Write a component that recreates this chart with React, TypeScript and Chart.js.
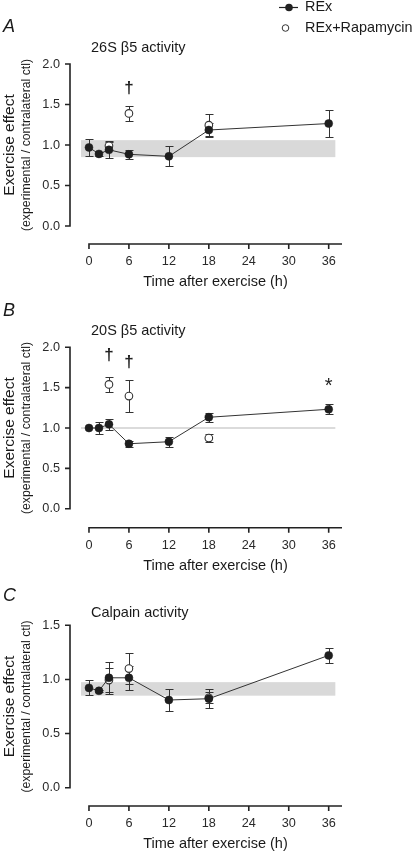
import React, { useEffect, useRef } from "react";
import { Chart, registerables } from "chart.js";

Chart.register(...registerables);

// ---------- data ----------
const TIMES = [0, 1.5, 3, 6, 12, 18, 36];
const X_TICKS = [0, 6, 12, 18, 24, 30, 36];

const A_REX = [0.97, 0.89, 0.94, 0.885, 0.86, 1.185, 1.265];
const A_REX_SEM = [0.1, 0.02, 0.105, 0.055, 0.125, 0.09, 0.17];
const A_RAPA = [null, null, 0.99, 1.39, null, 1.245, null];
const A_RAPA_SEM = [null, null, 0.05, 0.09, null, 0.135, null];
const A_BAND = [0.85, 1.06];
const A_Y_TICKS = [0, 0.5, 1.0, 1.5, 2.0];
const A_MARKS = [{ x: 6, y: 1.7, text: "†" }];

const B_REX = [1.0, 1.0, 1.045, 0.805, 0.83, 1.133, 1.232];
const B_REX_SEM = [0, 0.07, 0.065, 0.04, 0.06, 0.057, 0.062];
const B_RAPA = [null, null, 1.54, 1.395, null, 0.875, null];
const B_RAPA_SEM = [null, null, 0.095, 0.195, null, 0.05, null];
const B_REFLINE = 1.0;
const B_Y_TICKS = [0, 0.5, 1.0, 1.5, 2.0];
const B_MARKS = [
  { x: 3, y: 1.9, text: "†" },
  { x: 6, y: 1.82, text: "†" },
  { x: 36, y: 1.52, text: "*" },
];

const C_REX = [0.922, 0.895, 1.015, 1.015, 0.81, 0.822, 1.222];
const C_REX_SEM = [0.07, 0.01, 0.145, 0.11, 0.103, 0.086, 0.071];
const C_RAPA = [null, null, 0.994, 1.1, null, 0.83, null];
const C_RAPA_SEM = [null, null, 0.11, 0.14, null, 0.05, null];
const C_BAND = [0.85, 0.975];
const C_Y_TICKS = [0, 0.5, 1.0, 1.5];
const C_MARKS: { x: number; y: number; text: string }[] = [];

const LEGEND_LABELS = ["REx", "REx+Rapamycin"];
const TITLES = ["26S β5 activity", "20S β5 activity", "Calpain activity"];
const LETTERS = ["A", "B", "C"];
const X_TITLE = "Time after exercise (h)";
const Y_TITLE_1 = "Exercise effect";
const Y_TITLE_2 = "(experimental / contralateral ctl)";

// ---------- layout ----------
const W = 417;
const AXIS_X = 70; // y-axis line
const X0_PX = 89; // pixel of t = 0
const X_RIGHT = 342; // end of x-axis line
const X_MAX = 38;
const PX_PER_H = 40 / 6;
const X_MIN = -(X0_PX - AXIS_X) / PX_PER_H;
const BAND_X = [-1.2, 37];
const FONT = "'Liberation Sans', Arial, Helvetica, sans-serif";

type Panel = {
  idx: number;
  top: number;
  height: number;
  plotTop: number;
  zeroY: number;
  axisY: number;
  yMax: number;
  yTicks: number[];
  rex: (number | null)[];
  rexSem: (number | null)[];
  rapa: (number | null)[];
  rapaSem: (number | null)[];
  band: number[] | null;
  refLine: number | null;
  marks: { x: number; y: number; text: string }[];
  letterY: number;
  titleY: number;
};

const PANELS: Panel[] = [
  {
    idx: 0, top: 0, height: 290, plotTop: 64, zeroY: 226, axisY: 244, yMax: 2,
    yTicks: A_Y_TICKS, rex: A_REX, rexSem: A_REX_SEM, rapa: A_RAPA, rapaSem: A_RAPA_SEM,
    band: A_BAND, refLine: null, marks: A_MARKS, letterY: 27, titleY: 48,
  },
  {
    idx: 1, top: 290, height: 285, plotTop: 347.3, zeroY: 508.7, axisY: 527.7, yMax: 2,
    yTicks: B_Y_TICKS, rex: B_REX, rexSem: B_REX_SEM, rapa: B_RAPA, rapaSem: B_RAPA_SEM,
    band: null, refLine: B_REFLINE, marks: B_MARKS, letterY: 311, titleY: 330.7,
  },
  {
    idx: 2, top: 575, height: 279, plotTop: 625.3, zeroY: 787.7, axisY: 806, yMax: 1.5,
    yTicks: C_Y_TICKS, rex: C_REX, rexSem: C_REX_SEM, rapa: C_RAPA, rapaSem: C_RAPA_SEM,
    band: C_BAND, refLine: null, marks: C_MARKS, letterY: 596, titleY: 613,
  },
];

function drawErr(ctx: CanvasRenderingContext2D, xs: number[], ys: (number | null)[], sems: (number | null)[], xS: any, yS: any) {
  ctx.save();
  ctx.strokeStyle = "#333";
  ctx.lineWidth = 1;
  ys.forEach((v, i) => {
    const s = sems[i];
    if (v == null || s == null || s <= 0) return;
    const x = Math.round(xS.getPixelForValue(xs[i])) + 0.5;
    const yt = Math.round(yS.getPixelForValue(v + s)) + 0.5;
    const yb = Math.round(yS.getPixelForValue(v - s)) + 0.5;
    ctx.beginPath();
    ctx.moveTo(x, yt);
    ctx.lineTo(x, yb);
    ctx.moveTo(x - 4, yt);
    ctx.lineTo(x + 4, yt);
    ctx.moveTo(x - 4, yb);
    ctx.lineTo(x + 4, yb);
    ctx.stroke();
  });
  ctx.restore();
}

function PanelChart({ p }: { p: Panel }) {
  const ref = useRef<HTMLCanvasElement | null>(null);
  useEffect(() => {
    if (!ref.current) return;
    const pxPerUnit = (p.zeroY - p.plotTop) / p.yMax;
    const yMin = -(p.axisY - p.zeroY) / pxPerUnit;
    const off = p.top;

    const plugin = {
      id: "decor" + p.idx,
      beforeDatasetsDraw(chart: any) {
        const ctx = chart.ctx as CanvasRenderingContext2D;
        const xS = chart.scales.x;
        const yS = chart.scales.y;
        if (p.band) {
          ctx.save();
          ctx.fillStyle = "#d9d9d9";
          const x1 = xS.getPixelForValue(BAND_X[0]);
          const x2 = xS.getPixelForValue(BAND_X[1]);
          const y1 = yS.getPixelForValue(p.band[1]);
          const y2 = yS.getPixelForValue(p.band[0]);
          ctx.fillRect(x1, y1, x2 - x1, y2 - y1);
          ctx.restore();
        }
        if (p.refLine != null) {
          ctx.save();
          ctx.strokeStyle = "#cfcfcf";
          ctx.lineWidth = 1.5;
          const y = yS.getPixelForValue(p.refLine);
          ctx.beginPath();
          ctx.moveTo(xS.getPixelForValue(BAND_X[0]), y);
          ctx.lineTo(xS.getPixelForValue(BAND_X[1]), y);
          ctx.stroke();
          ctx.restore();
        }
        drawErr(ctx, TIMES, p.rapa, p.rapaSem, xS, yS);
        drawErr(ctx, TIMES, p.rex, p.rexSem, xS, yS);
      },
      afterDraw(chart: any) {
        const ctx = chart.ctx as CanvasRenderingContext2D;
        const xS = chart.scales.x;
        const yS = chart.scales.y;
        const ca = chart.chartArea;
        ctx.save();
        // axes
        ctx.strokeStyle = "#222";
        ctx.lineWidth = 1.6;
        const yTopPx = yS.getPixelForValue(p.yMax);
        const y0Px = yS.getPixelForValue(0);
        ctx.beginPath();
        ctx.moveTo(ca.left, yTopPx - 0.8);
        ctx.lineTo(ca.left, y0Px + 0.8);
        p.yTicks.forEach((v) => {
          const y = yS.getPixelForValue(v);
          ctx.moveTo(ca.left, y);
          ctx.lineTo(ca.left - 5, y);
        });
        const xb = ca.bottom;
        ctx.moveTo(xS.getPixelForValue(0) - 0.8, xb);
        ctx.lineTo(xS.getPixelForValue(X_MAX), xb);
        X_TICKS.forEach((v) => {
          const x = xS.getPixelForValue(v);
          ctx.moveTo(x, xb);
          ctx.lineTo(x, xb + 5);
        });
        ctx.stroke();

        // markers (daggers / asterisks)
        ctx.fillStyle = "#222";
        ctx.textAlign = "center";
        ctx.textBaseline = "middle";
        p.marks.forEach((m) => {
          ctx.font = m.text === "*" ? `20px ${FONT}` : `bold 17px ${FONT}`;
          ctx.fillText(m.text, xS.getPixelForValue(m.x), yS.getPixelForValue(m.y));
        });

        // letters and titles
        ctx.fillStyle = "#1a1a1a";
        ctx.textAlign = "left";
        ctx.font = `italic 18px ${FONT}`;
        ctx.fillText(LETTERS[p.idx], 3, p.letterY - off);
        ctx.font = `14.5px ${FONT}`;
        ctx.fillText(TITLES[p.idx], 91, p.titleY - off);
        ctx.textAlign = "center";
        ctx.fillText(X_TITLE, (xS.getPixelForValue(0) + ca.right) / 2, ca.bottom + 38.3);

        // y title
        const cy = (yTopPx + y0Px) / 2;
        ctx.save();
        ctx.translate(9.5, cy);
        ctx.rotate(-Math.PI / 2);
        ctx.font = `15.5px ${FONT}`;
        ctx.fillText(Y_TITLE_1, 0, 0);
        ctx.restore();
        ctx.save();
        ctx.translate(26.5, cy);
        ctx.rotate(-Math.PI / 2);
        ctx.font = `12.3px ${FONT}`;
        ctx.fillText(Y_TITLE_2, 0, 0);
        ctx.restore();

        // legend (panel A only)
        if (p.idx === 0) {
          ctx.strokeStyle = "#222";
          ctx.lineWidth = 1.2;
          ctx.beginPath();
          ctx.moveTo(279, 7.5);
          ctx.lineTo(298, 7.5);
          ctx.stroke();
          ctx.fillStyle = "#222";
          ctx.beginPath();
          ctx.arc(289, 7.5, 3.8, 0, Math.PI * 2);
          ctx.fill();
          ctx.fillStyle = "#fff";
          ctx.strokeStyle = "#333";
          ctx.lineWidth = 1;
          ctx.beginPath();
          ctx.arc(285.5, 28, 3.3, 0, Math.PI * 2);
          ctx.fill();
          ctx.stroke();
          ctx.fillStyle = "#1a1a1a";
          ctx.textAlign = "left";
          ctx.font = `14.4px ${FONT}`;
          ctx.fillText(LEGEND_LABELS[0], 305, 7.5);
          ctx.fillText(LEGEND_LABELS[1], 305, 28);
        }
        ctx.restore();
      },
    };

    const toPts = (arr: (number | null)[]) =>
      TIMES.map((t, i) => ({ x: t, y: arr[i] })).filter((d) => d.y != null);

    const chart = new Chart(ref.current, {
      type: "scatter",
      data: {
        datasets: [
          {
            label: LEGEND_LABELS[0],
            data: toPts(p.rex) as any,
            showLine: true,
            borderColor: "#333",
            borderWidth: 1,
            pointRadius: 4,
            pointBackgroundColor: "#1e1e1e",
            pointBorderColor: "#1e1e1e",
            pointBorderWidth: 0.5,
          },
          {
            label: LEGEND_LABELS[1],
            data: toPts(p.rapa) as any,
            showLine: false,
            pointRadius: 3.8,
            pointBackgroundColor: "#ffffff",
            pointBorderColor: "#333",
            pointBorderWidth: 1.1,
          },
        ],
      },
      options: {
        responsive: false,
        animation: false,
        devicePixelRatio: 1,
        layout: { padding: { top: p.plotTop - p.top, right: W - X_RIGHT, left: 0, bottom: 0 } },
        plugins: { legend: { display: false }, tooltip: { enabled: false } },
        scales: {
          x: {
            type: "linear",
            min: X_MIN,
            max: X_MAX,
            grid: { display: false, drawTicks: false },
            border: { display: false },
            ticks: {
              padding: 10,
              color: "#2a2a2a",
              font: { family: FONT, size: 12.7 },
              maxRotation: 0,
              callback: (v: any) => String(v),
            },
            afterBuildTicks: (ax: any) => {
              ax.ticks = X_TICKS.map((v) => ({ value: v }));
            },
            afterFit: (s: any) => {
              s.height = p.top + p.height - p.axisY;
            },
          },
          y: {
            type: "linear",
            min: yMin,
            max: p.yMax,
            grid: { display: false, drawTicks: false },
            border: { display: false },
            ticks: {
              padding: 10,
              color: "#2a2a2a",
              font: { family: FONT, size: 12.7 },
              callback: (v: any) => Number(v).toFixed(1),
            },
            afterBuildTicks: (ax: any) => {
              ax.ticks = p.yTicks.map((v) => ({ value: v }));
            },
            afterFit: (s: any) => {
              s.width = AXIS_X;
            },
          },
        },
      } as any,
      plugins: [plugin],
    });
    return () => chart.destroy();
  }, [p]);

  return (
    <canvas
      ref={ref}
      width={W}
      height={p.height}
      style={{ position: "absolute", left: 0, top: p.top, width: W, height: p.height }}
    />
  );
}

export default function App() {
  return (
    <div style={{ position: "absolute", left: 0, top: 0, width: W, height: 854, background: "#fff" }}>
      {PANELS.map((p) => (
        <PanelChart key={p.idx} p={p} />
      ))}
    </div>
  );
}
